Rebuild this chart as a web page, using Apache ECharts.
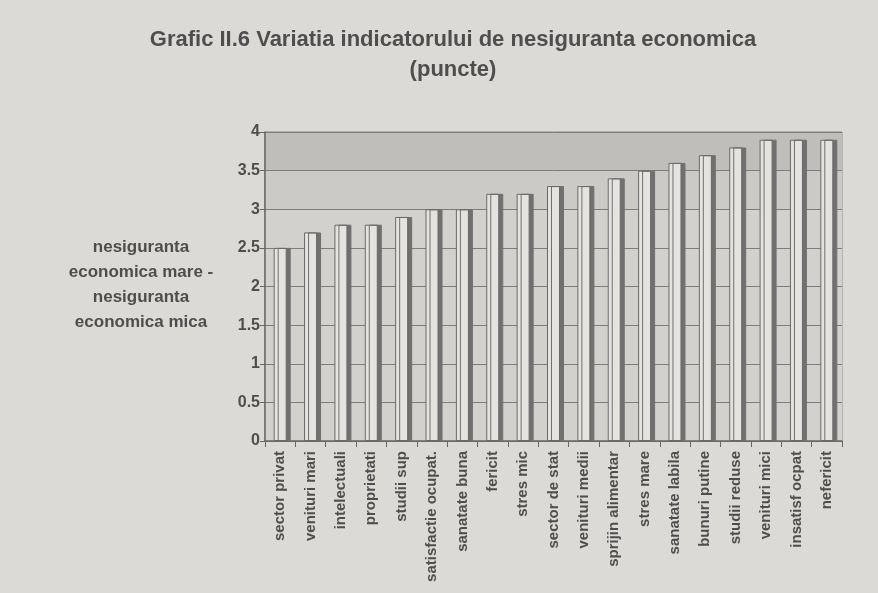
<!DOCTYPE html>
<html>
<head>
<meta charset="utf-8">
<script src="https://cdn.jsdelivr.net/npm/echarts@6/dist/echarts.min.js"></script>
<style>
  html, body { margin: 0; padding: 0; background: #dbdad7; }
  #main { width: 878px; height: 593px; }
</style>
</head>
<body>
<div id="main"></div>
<script>
// categorii si valori (puncte)
var categories = [
  'sector privat', 'venituri mari', 'intelectuali', 'proprietati', 'studii sup',
  'satisfactie ocupat.', 'sanatate buna', 'fericit', 'stres mic', 'sector de stat',
  'venituri medii', 'sprijin alimentar', 'stres mare', 'sanatate labila', 'bunuri putine',
  'studii reduse', 'venituri mici', 'insatisf ocpat', 'nefericit'
]
var values = [
  2.5, 2.7, 2.8, 2.8, 2.9,
  3.0, 3.0, 3.2, 3.2, 3.3,
  3.3, 3.4, 3.5, 3.6, 3.7,
  3.8, 3.9, 3.9, 3.9
]
var yTicks = [0, 0.5, 1, 1.5, 2, 2.5, 3, 3.5, 4]

var textColor = '#4e4e4e'
var font = 'Liberation Sans, Arial, sans-serif'

var myChart = echarts.init(document.getElementById('main'))

var option = {
  backgroundColor: '#dbdad7',
  animation: false,
  title: {
    text: 'Grafic II.6 Variatia indicatorului de nesiguranta economica\n(puncte)',
    left: 448,
    top: 20,
    textAlign: 'center',
    textStyle: {
      color: textColor,
      fontFamily: font,
      fontWeight: 'bold',
      fontSize: 22,
      lineHeight: 30
    }
  },
  grid: {
    left: 265,
    right: 36,
    top: 132,
    bottom: 152,
    show: true,
    backgroundColor: '#cfcecb',
    borderColor: '#8a8a8a',
    borderWidth: 1
  },
  graphic: [
    {
      type: 'text',
      x: 141,
      y: 235,
      style: {
        text: 'nesiguranta\neconomica mare -\nnesiguranta\neconomica mica',
        fill: textColor,
        font: 'bold 17px ' + font,
        align: 'center',
        lineHeight: 25
      }
    }
  ],
  xAxis: {
    type: 'category',
    data: categories,
    axisLine: { lineStyle: { color: '#666', width: 1.5 } },
    axisTick: { show: true, length: 6, lineStyle: { color: '#666' } },
    axisLabel: {
      rotate: 90,
      interval: 0,
      color: textColor,
      fontFamily: font,
      fontWeight: 'bold',
      fontSize: 15,
      margin: 10
    }
  },
  yAxis: {
    type: 'value',
    min: 0,
    max: 4,
    interval: 0.5,
    axisLine: { show: true, lineStyle: { color: '#666', width: 1.5 } },
    axisTick: { show: true, length: 5, lineStyle: { color: '#666' } },
    axisLabel: {
      color: textColor,
      fontFamily: font,
      fontWeight: 'bold',
      fontSize: 16,
      margin: 5,
      formatter: function (v) { return yTicks.indexOf(v) >= 0 ? String(v) : '' }
    },
    splitLine: { show: true, lineStyle: { color: '#7d7d7d', width: 1 } },
    splitArea: {
      show: true,
      areaStyle: { color: ['#d2d1ce', '#d2d1ce', '#d2d1ce', '#d2d1ce', '#d2d1ce', '#d2d1ce', '#cbcac7', '#bfbebb'] }
    }
  },
  series: [
    {
      type: 'bar',
      data: values,
      barWidth: 13,
      itemStyle: {
        color: '#e4e3e0',
        borderColor: '#6a6a6a',
        borderWidth: 1,
        shadowColor: '#707070',
        shadowOffsetX: 4,
        shadowOffsetY: 0,
        shadowBlur: 0
      }
    }
  ]
}

myChart.setOption(option)
</script>
</body>
</html>
